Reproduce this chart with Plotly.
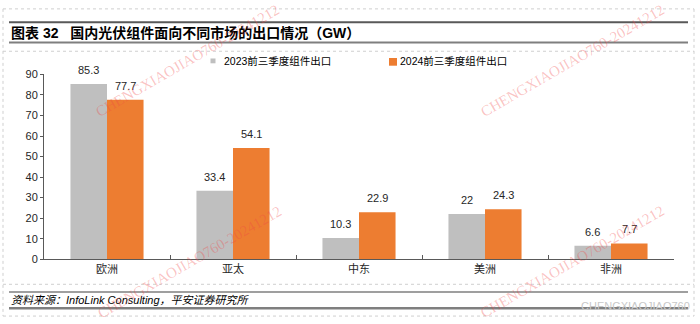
import plotly.graph_objects as go

# ---- data ----
categories = ["欧洲", "亚太", "中东", "美洲", "非洲"]
series_names = ["2023前三季度组件出口", "2024前三季度组件出口"]
values_2023 = [85.3, 33.4, 10.3, 22, 6.6]
values_2024 = [77.7, 54.1, 22.9, 24.3, 7.7]
y_ticks = [0, 10, 20, 30, 40, 50, 60, 70, 80, 90]

title_text = "图表 32&nbsp;&nbsp;&nbsp;国内光伏组件面向不同市场的出口情况（GW）"
source_text = "资料来源：InfoLink Consulting，平安证券研究所"
watermark = "CHENGXIAOJIAO760-20241212"

W, H = 700, 324
colors = ["#BFBFBF", "#ED7D31"]
FONT = "Liberation Sans, Arial, Noto Sans CJK SC, sans-serif"


def px(x):
    return x / W


def py(y):
    return 1 - y / H


fig = go.Figure()
for name, vals, col in zip(series_names, [values_2023, values_2024], colors):
    fig.add_trace(go.Bar(x=categories, y=vals, name=name, marker=dict(color=col, line=dict(width=0)),
                         showlegend=False, hoverinfo="x+y"))

annotations = []
shapes = []

# value labels
for vals, shift in zip([values_2023, values_2024], [-18.25, 18.25]):
    for c, v in zip(categories, vals):
        annotations.append(dict(x=c, y=v, xref="x", yref="y", text=f"{v:g}", showarrow=False,
                                xshift=shift, yshift=14, yanchor="middle",
                                font=dict(size=11, color="#262626", family=FONT)))

# manual legend
leg = [(213, 57, 5, 222), (393, 58, 8, 398)]
for (mx, my, ms, tx), name, col in zip(leg, series_names, colors):
    shapes.append(dict(type="rect", xref="paper", yref="paper",
                       x0=px(mx - ms / 2), x1=px(mx + ms / 2), y0=py(my + ms / 2), y1=py(my - ms / 2),
                       fillcolor=col, line=dict(width=0)))
    annotations.append(dict(x=px(tx), y=py(57), xref="paper", yref="paper", text=name, showarrow=False,
                            xanchor="left", yanchor="middle", font=dict(size=10.5, color="#000000", family=FONT)))

# title
annotations.append(dict(x=px(9), y=py(28), xref="paper", yref="paper", text="<b>" + title_text + "</b>",
                        showarrow=False, xanchor="left", yanchor="middle",
                        font=dict(size=14, color="#000000", family=FONT)))
# source
annotations.append(dict(x=px(9), y=py(305), xref="paper", yref="paper", text="<i>" + source_text + "</i>",
                        showarrow=False, xanchor="left", yanchor="middle",
                        font=dict(size=11, color="#000000", family=FONT)))
# grey id
annotations.append(dict(x=px(692), y=py(312), xref="paper", yref="paper", text="CHENGXIAOJIAO760",
                        showarrow=False, xanchor="right", yanchor="middle",
                        font=dict(size=11, color="#C8C8C8", family=FONT)))

# watermarks
for cx, cy in [(187, 57), (572, 57), (190, 266), (572, 266)]:
    annotations.append(dict(x=px(cx), y=py(cy), xref="paper", yref="paper", text=watermark, showarrow=False,
                            textangle=-30, xanchor="center", yanchor="middle",
                            font=dict(size=15, color="rgba(240,70,70,0.32)", family="Liberation Serif, serif")))

# rule lines
for y, w, c in [(17, 2, "#595959"), (38, 2, "#7F7F7F"), (297, 1.2, "#404040"), (314, 2.5, "#7F7F7F")]:
    shapes.append(dict(type="line", xref="paper", yref="paper", x0=px(9), x1=px(688), y0=py(y), y1=py(y),
                       line=dict(color=c, width=w)))
# dotted cell borders
for y in [3, 47, 289, 322]:
    shapes.append(dict(type="line", xref="paper", yref="paper", x0=px(3), x1=px(694), y0=py(y), y1=py(y),
                       line=dict(color="#CFCFCF", width=1, dash="dot")))
for x in [3, 694]:
    shapes.append(dict(type="line", xref="paper", yref="paper", x0=px(x), x1=px(x), y0=py(3), y1=py(322),
                       line=dict(color="#CFCFCF", width=1, dash="dot")))

fig.update_layout(
    width=W, height=H,
    margin=dict(l=0, r=0, t=0, b=0),
    paper_bgcolor="white", plot_bgcolor="white",
    barmode="group", bargap=0.42, bargroupgap=0,
    font=dict(family=FONT, size=11, color="#262626"),
    xaxis=dict(domain=[px(44), px(674)], type="category", showline=True, linecolor="#595959", linewidth=1,
               ticks="inside", ticklen=4, tickcolor="#595959", tickson="boundaries", showgrid=False,
               tickfont=dict(size=11, color="#262626"), fixedrange=True),
    yaxis=dict(domain=[py(263), py(71)], range=[0, 90], tickvals=y_ticks, showline=True, linecolor="#595959",
               linewidth=1, ticks="outside", ticklen=3, tickcolor="#595959", showgrid=False, zeroline=False,
               tickfont=dict(size=11, color="#262626"), fixedrange=True),
    annotations=annotations,
    shapes=shapes,
    showlegend=False,
)

fig.write_html("out.html")
